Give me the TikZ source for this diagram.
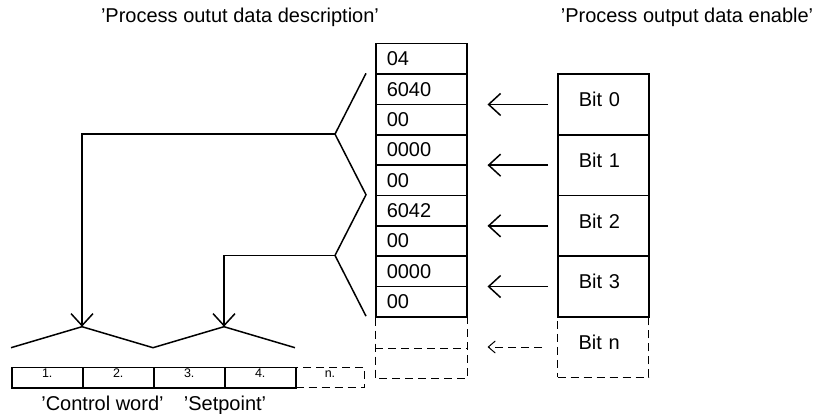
\documentclass[tikz,border=0pt]{standalone}
\usepackage{fontspec}
\setmainfont{Liberation Sans}
\usetikzlibrary{arrows.meta}

\begin{document}
\begin{tikzpicture}[x=1pt, y=-1pt, line width=1.5pt,
  font=\fontsize{20}{24}\selectfont,
  cell/.style={draw, anchor=north west, minimum width=91pt, minimum height=30.35pt,
    inner xsep=11pt, inner ysep=0pt, text width=69pt, align=left},
  bitbox/.style={draw, anchor=north west, minimum width=91pt, minimum height=60.7pt,
    inner xsep=21pt, inner ysep=0pt, text width=49pt, align=left,
    text height=14.3pt, text depth=10pt},
  slot/.style={draw, anchor=north west, minimum width=71pt, minimum height=20.6pt,
    inner sep=0pt, font=\fontsize{12.5}{14}\selectfont, text height=9pt, text depth=9pt},
  free/.style={dash pattern=on 8pt off 5pt, line width=1pt},
  arr/.style={-{Straight Barb[length=12pt,width=22pt]}},
  darr/.style={-{Straight Barb[length=7pt,width=12pt]}, free}]
\useasboundingbox (0,0) rectangle (813,414);

\node[anchor=base] (desc) at (240,23) {'Process outut data description'};
\node[anchor=base] (enab) at (687,23) {'Process output data enable'};

% data column
\node[cell] (c1) at (375,43) {04};
\node[cell] (c2) at (375,73.35) {6040};
\node[cell] (c3) at (375,103.7) {00};
\node[cell] (c4) at (375,134.05) {0000};
\node[cell] (c5) at (375,164.4) {00};
\node[cell] (c6) at (375,194.75) {6042};
\node[cell] (c7) at (375,225.1) {00};
\node[cell] (c8) at (375,255.45) {0000};
\node[cell] (c9) at (375,285.8) {00};
\node[cell,draw=none] (c10) at (375,316.15) {};
\node[cell,draw=none] (c11) at (375,346.5) {};
\draw[free] (c9.south west) -- (c11.south west) -- (c11.south east) -- (c9.south east);
\draw[free] (c10.south west) -- (c10.south east);

% enable bits
\node[bitbox] (b0) at (557,73.35) {Bit 0};
\node[bitbox] (b1) at (557,134.05) {Bit 1};
\node[bitbox] (b2) at (557,194.75) {Bit 2};
\node[bitbox] (b3) at (557,255.45) {Bit 3};
\node[bitbox,free] (bn) at (557,316.15) {Bit n};

\draw[arr, shorten <=9pt, shorten >=20pt] (b0.west) -- (b0.west -| c1.east);
\draw[arr, shorten <=9pt, shorten >=20pt] (b1.west) -- (b1.west -| c1.east);
\draw[arr, shorten <=9pt, shorten >=20pt] (b2.west) -- (b2.west -| c1.east);
\draw[arr, shorten <=9pt, shorten >=20pt] (b3.west) -- (b3.west -| c1.east);
\draw[darr, shorten <=15pt, shorten >=20pt] (bn.west) -- (bn.west -| c1.east);

% brackets
\coordinate (tipA) at ([xshift=-40pt]c4.north west);
\coordinate (tipB) at ([xshift=-40pt]c8.north west);
\draw ([xshift=-9pt]c2.north west) -- (tipA) -- ([xshift=-9pt]c6.north west)
  -- (tipB) -- ([xshift=-9pt]c10.north west);

% process data slots
\node[slot] (s1) at (11,366.7) {1.};
\node[slot] (s2) at (82,366.7) {2.};
\node[slot] (s3) at (153,366.7) {3.\hspace{20pt}};
\node[slot] (s4) at (224,366.7) {4.};
\node[slot,free,minimum width=69pt] (sn) at (295,366.7) {n.};

\coordinate (peakA) at (82,326.7);
\coordinate (peakB) at (224,326.7);
\draw (11,347.7) -- (peakA) -- (153,347.7) -- (peakB) -- (295,347.7);

\draw[arr] (tipA) -| (peakA);
\draw[arr] (tipB) -| (peakB);

\node[anchor=base] (cw) at (102.5,410) {'Control word'};
\node[anchor=base] (sp) at (225,410) {'Setpoint'};
\end{tikzpicture}
\end{document}
